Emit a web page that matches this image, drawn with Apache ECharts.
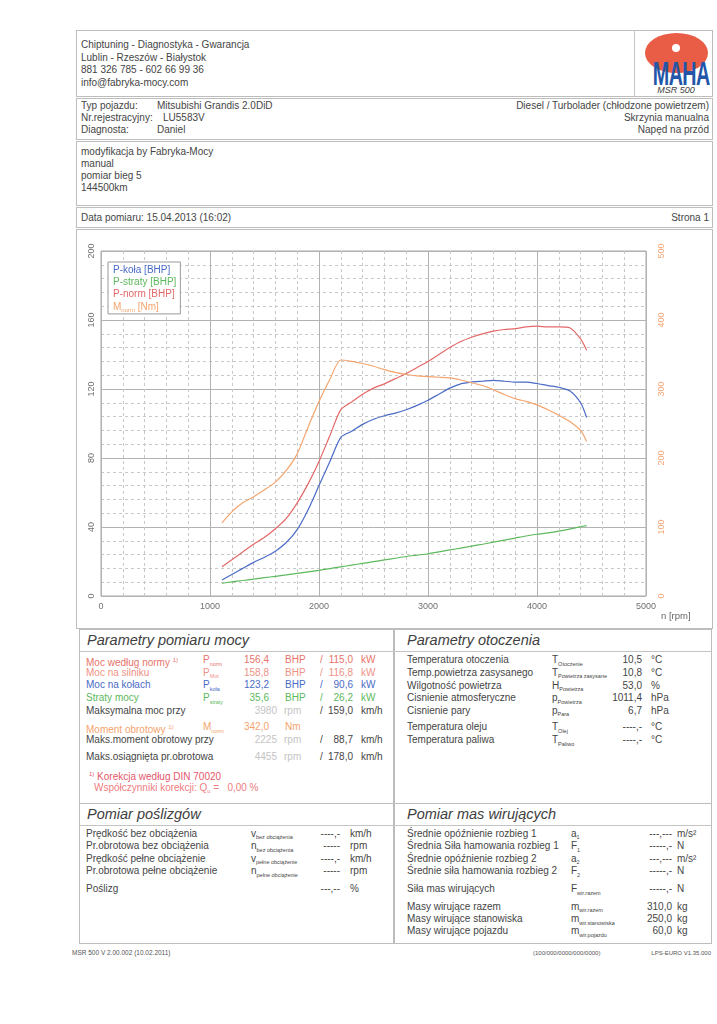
<!DOCTYPE html>
<html><head><meta charset="utf-8">
<script src="https://cdn.jsdelivr.net/npm/echarts@6/dist/echarts.min.js"></script>
<style>
html,body{margin:0;padding:0;background:#fff;}
body{width:717px;height:1024px;position:relative;overflow:hidden;font-family:"Liberation Sans",Arial,sans-serif;color:#454545;}
.b{position:absolute;border:1px solid #bdbdbd;box-sizing:border-box;}
.l{position:absolute;background:#c4c4c4;}
.t{position:absolute;white-space:nowrap;font-size:10px;line-height:12px;}
.s{font-size:5.5px;position:relative;top:2.5px;}
.h{font-size:14.5px;line-height:18px;font-style:italic;color:#404040;}
#chart{position:absolute;left:76px;top:230px;width:637px;height:398px;}
</style></head>
<body>
<!-- boxes -->
<div class="b" style="left:76px;top:30px;width:637px;height:67px"></div>
<div class="l" style="left:634px;top:30px;width:1px;height:67px"></div>
<div class="b" style="left:76px;top:98px;width:637px;height:42px"></div>
<div class="b" style="left:76px;top:141px;width:637px;height:65px"></div>
<div class="b" style="left:76px;top:207px;width:637px;height:21px"></div>
<div class="b" style="left:76px;top:229px;width:637px;height:400px"></div>
<div class="b" style="left:79px;top:629px;width:315px;height:175px"></div>
<div class="b" style="left:394px;top:629px;width:318px;height:175px"></div>
<div class="b" style="left:79px;top:803px;width:315px;height:141px"></div>
<div class="b" style="left:394px;top:803px;width:318px;height:141px"></div>
<div class="l" style="left:80px;top:651px;width:631px;height:1px"></div>
<div class="l" style="left:80px;top:825px;width:631px;height:1px"></div>

<!-- logo -->
<div style="position:absolute;left:645px;top:33px;width:63px;height:40px;border-radius:50%;background:#e95c45;"></div>
<div style="position:absolute;left:672px;top:44px;width:8px;height:8px;border-radius:50%;background:#fff;"></div>
<div class="t" style="left:636px;top:56px;width:80px;text-align:center;font-size:34px;line-height:34px;font-weight:bold;color:#2356a8;transform:scaleX(0.58);letter-spacing:-1px;">MAHA</div>
<div class="t" style="left:640px;top:85px;width:72px;text-align:center;font-size:9px;line-height:10px;font-style:italic;color:#404040;">MSR 500</div>

<div id="chart"></div>
<div id="txt"></div>

<script>
// ---- chart data ----
const rpm     = [1110,1200,1300,1400,1500,1600,1700,1800,1900,2000,2100,2200,2300,2400,2500,2600,2700,2800,2900,3000,3100,3200,3300,3400,3500,3600,3700,3800,3900,4000,4100,4200,4300,4400,4455];
const pKola   = [9.3,12.5,16,19.5,22.5,26,31,38.5,50,64,78,92,95.5,99.5,102.5,104.5,106,108,110.5,113.5,117,120.5,123,124,124.5,125,124.5,124,124,123.2,122,121,119,112,103.5];
const pStraty = [7.4,8.2,9,9.8,10.6,11.4,12.2,13.1,14,14.9,15.9,16.9,17.9,18.9,19.9,20.9,21.9,22.9,23.7,24.5,25.6,26.7,27.8,28.9,30,31.2,32.4,33.6,34.8,35.8,36.6,37.6,38.8,40.2,40.8];
const pNorm   = [17,21,25.5,30,34,39,45,54,65,78,93,108,112.5,117,120.5,123,126,129,132.5,136,140,144,147.5,150,152,153.5,154.5,155,156,156.4,156,156,155.5,149,142.5];
const mNorm   = [106,122,135,144,154,165,182,206,245,282,314,342,340,337,333,328,324,321,319,318,317,316,313,309,305,299,292,286,282,277,270,262,253,240,224];
const seriesNames = ['P-koła [BHP]','P-straty [BHP]','P-norm [BHP]','M_norm [Nm]'];
const xTicks = [0,1000,2000,3000,4000,5000];
const yLeftTicks = [0,40,80,120,160,200];
const yRightTicks = [0,100,200,300,400,500];

const C = {blue:'#4a6bc6', green:'#5db95d', red:'#e46868', orange:'#f4a46e'};

// ---- page text ----
const box = document.getElementById('txt');
function put(x, y, html, o) {
  o = o || {};
  const d = document.createElement('div');
  d.className = 't';
  const fs = o.fs || 10, lh = Math.round(fs * 1.2);
  d.style.fontSize = fs + 'px';
  d.style.lineHeight = lh + 'px';
  d.style.top = (y - lh / 2) + 'px';
  if (o.r) d.style.right = (717 - x) + 'px'; else d.style.left = x + 'px';
  if (o.c) d.style.color = o.c;
  if (o.cls) d.className += ' ' + o.cls;
  d.innerHTML = html;
  box.appendChild(d);
}
const sub = s => '<span class="s">' + s + '</span>';

// header
put(81, 45, 'Chiptuning - Diagnostyka - Gwarancja');
put(81, 57.5, 'Lublin - Rzeszów - Białystok');
put(81, 70, '881 326 785 - 602 66 99 36');
put(81, 82.5, 'info@fabryka-mocy.com');
put(81, 106, 'Typ pojazdu:'); put(157, 106, 'Mitsubishi Grandis 2.0DiD');
put(81, 118, 'Nr.rejestracyjny:'); put(163, 118, 'LU5583V');
put(81, 130, 'Diagnosta:'); put(157, 130, 'Daniel');
put(709, 106, 'Diesel / Turbolader (chłodzone powietrzem)', {r:1});
put(709, 118, 'Skrzynia manualna', {r:1});
put(709, 130, 'Napęd na przód', {r:1});
put(81, 151.5, 'modyfikacja by Fabryka-Mocy');
put(81, 163.5, 'manual');
put(81, 175.5, 'pomiar bieg 5');
put(81, 187.5, '144500km');
put(81, 217.5, 'Data pomiaru: 15.04.2013 (16:02)');
put(709, 217.5, 'Strona 1', {r:1});

// Parametry pomiaru mocy
put(87, 640.5, 'Parametry pomiaru mocy', {fs:14.5, cls:'h'});
const G = '#c4c4c4';
const powRows = [
  [660, 'Moc według normy <sup style="font-size:6px">1)</sup>', 'P' + sub('norm'), '156,4', 'BHP', '115,0', 'kW', '#e8736b'],
  [672.5, 'Moc na silniku', 'P' + sub('Mot'), '158,8', 'BHP', '116,8', 'kW', '#ef9286'],
  [685, 'Moc na kołach', 'P' + sub('koła'), '123,2', 'BHP', '90,6', 'kW', C.blue],
  [698, 'Straty mocy', 'P' + sub('straty'), '35,6', 'BHP', '26,2', 'kW', C.green]
];
powRows.forEach(r => {
  put(86, r[0], r[1], {c:r[7]}); put(203, r[0], r[2], {c:r[7]});
  put(269, r[0], r[3], {r:1, c:r[7]}); put(285, r[0], r[4], {c:r[7]});
  put(320, r[0], '/', {c:r[7]}); put(353, r[0], r[5], {r:1, c:r[7]}); put(361, r[0], r[6], {c:r[7]});
});
const rpmRows = [
  [710.5, 'Maksymalna moc przy', '3980', '159,0'],
  [740, 'Maks.moment obrotowy przy', '2225', '88,7'],
  [757, 'Maks.osiągnięta pr.obrotowa', '4455', '178,0']
];
rpmRows.forEach(r => {
  put(86, r[0], r[1]); put(277, r[0], r[2], {r:1, c:G}); put(284, r[0], 'rpm', {c:G});
  put(320, r[0], '/'); put(353, r[0], r[3], {r:1}); put(361, r[0], 'km/h');
});
put(86, 727, 'Moment obrotowy <sup style="font-size:6px">1)</sup>', {c:C.orange});
put(203, 727, 'M' + sub('norm'), {c:C.orange});
put(269, 727, '342,0', {r:1, c:C.orange}); put(285, 727, 'Nm', {c:C.orange});
put(89, 774, '<sup style="font-size:6px">1)</sup> Korekcja według DIN 70020', {c:'#e4566c'});
put(94, 787.5, 'Współczynniki korekcji: Q' + sub('u') + ' = &nbsp; 0,00 %', {c:'#ee7d80'});

// Parametry otoczenia
put(407, 640.5, 'Parametry otoczenia', {fs:14.5, cls:'h'});
const envRows = [
  [660, 'Temperatura otoczenia', 'T' + sub('Otoczenie'), '10,5', '°C'],
  [672.5, 'Temp.powietrza zasysanego', 'T' + sub('Powietrza zasysane'), '10,8', '°C'],
  [685.5, 'Wilgotność powietrza', 'H' + sub('Powietrza'), '53,0', '%'],
  [698, 'Cisnienie atmosferyczne', 'p' + sub('Powietrza'), '1011,4', 'hPa'],
  [710.5, 'Cisnienie pary', 'p' + sub('Para'), '6,7', 'hPa'],
  [727, 'Temperatura oleju', 'T' + sub('Olej'), '----,-', '°C'],
  [740, 'Temperatura paliwa', 'T' + sub('Paliwo'), '----,-', '°C']
];
envRows.forEach(r => {
  put(407, r[0], r[1]); put(552, r[0], r[2]); put(642, r[0], r[3], {r:1}); put(651, r[0], r[4]);
});

// Pomiar poślizgów
put(87, 814.5, 'Pomiar poślizgów', {fs:14.5, cls:'h'});
const slipRows = [
  [833.5, 'Prędkość bez obciążenia', 'v' + sub('bez obciążenia'), '----,-', 'km/h'],
  [846, 'Pr.obrotowa bez obciążenia', 'n' + sub('bez obciążenia'), '-----', 'rpm'],
  [858.5, 'Prędkość pełne obciążenie', 'v' + sub('pełne obciążenie'), '----,-', 'km/h'],
  [871, 'Pr.obrotowa pełne obciążenie', 'n' + sub('pełne obciążenie'), '-----', 'rpm'],
  [889, 'Poślizg', '', '---,--', '%']
];
slipRows.forEach(r => {
  put(86, r[0], r[1]); put(251, r[0], r[2]); put(340, r[0], r[3], {r:1}); put(350, r[0], r[4]);
});

// Pomiar mas wirujących
put(407, 814.5, 'Pomiar mas wirujących', {fs:14.5, cls:'h'});
const massRows = [
  [833.5, 'Średnie opóźnienie rozbieg 1', 'a' + sub('1'), '---,---', 'm/s²'],
  [846, 'Średnia Siła hamowania rozbieg 1', 'F' + sub('1'), '-----,-', 'N'],
  [858.5, 'Średnie opóźnienie rozbieg 2', 'a' + sub('2'), '---,---', 'm/s²'],
  [871, 'Średnie siła hamowania rozbieg 2', 'F' + sub('2'), '-----,-', 'N'],
  [889, 'Siła mas wirujących', 'F' + sub('wir.razem'), '-----,-', 'N'],
  [906.5, 'Masy wirujące razem', 'm' + sub('wir.razem'), '310,0', 'kg'],
  [919, 'Masy wirujące stanowiska', 'm' + sub('wir.stanowiska'), '250,0', 'kg'],
  [931, 'Masy wirujące pojazdu', 'm' + sub('wir.pojazdu'), '60,0', 'kg']
];
massRows.forEach(r => {
  put(407, r[0], r[1]); put(571, r[0], r[2]); put(672, r[0], r[3], {r:1}); put(677, r[0], r[4]);
});

// footer
put(72, 953, 'MSR 500 V 2.00.002 (10.02.2011)', {fs:6.5, c:'#555'});
put(533, 953, '(100/000/0000/000/0000)', {fs:6, c:'#555'});
put(711, 953, 'LPS-EURO V1.35.000', {fs:6, r:1, c:'#555'});

// ---- chart ----
const chart = echarts.init(document.getElementById('chart'), null, {renderer:'canvas'});
const pairs = vals => rpm.map((r, i) => [r, vals[i]]);
const lineS = (name, vals, color, yi) => ({
  name, type:'line', yAxisIndex:yi, data:pairs(vals), showSymbol:false, smooth:0.25,
  lineStyle:{color, width:1.2}, itemStyle:{color}
});
const minorSplit = {show:true, lineStyle:{color:'#c8c8c8', width:1, type:[3,3]}};
const plain = v => String(v);
chart.setOption({
  animation:false,
  grid:{left:25, right:67, top:21, bottom:32, show:true, borderColor:'#a9a9a9', borderWidth:1, backgroundColor:'#fff'},
  legend:{
    data: seriesNames.map((n, i) => ({name:n, textStyle:{color:[C.blue, C.green, C.red, C.orange][i]}})),
    orient:'vertical', left:32, top:32, icon:'none', itemWidth:0, itemHeight:10, itemGap:0.3,
    padding:[2, 4, 1, 0], backgroundColor:'#fff', borderColor:'#9a9a9a', borderWidth:1, selectedMode:false,
    textStyle:{fontSize:10, lineHeight:12, fontFamily:'Liberation Sans', rich:{
      a:{fontSize:10, color:C.orange, fontFamily:'Liberation Sans'},
      b:{fontSize:6, color:C.orange, verticalAlign:'bottom', padding:[4,0,0,0], fontFamily:'Liberation Sans'}
    }},
    formatter: n => n === 'M_norm [Nm]' ? '{a|M}{b|norm}{a| [Nm]}' : n
  },
  xAxis:{
    type:'value', min:xTicks[0], max:xTicks[xTicks.length - 1], interval:1000,
    axisLine:{show:false}, axisTick:{show:false},
    axisLabel:{color:'#707070', fontSize:9, margin:6, fontFamily:'Liberation Sans', formatter:plain},
    splitLine:{lineStyle:{color:'#b2b2b2', width:1}},
    minorTick:{show:false, splitNumber:5}, minorSplitLine:minorSplit
  },
  yAxis:[
    {type:'value', min:yLeftTicks[0], max:yLeftTicks[yLeftTicks.length - 1], interval:40,
     axisLine:{show:false}, axisTick:{show:false},
     axisLabel:{rotate:90, color:'#707070', fontSize:9, margin:5, fontFamily:'Liberation Sans', formatter:plain},
     splitLine:{lineStyle:{color:'#b2b2b2', width:1}},
     minorTick:{show:false, splitNumber:5}, minorSplitLine:minorSplit},
    {type:'value', position:'right', min:yRightTicks[0], max:yRightTicks[yRightTicks.length - 1], interval:100,
     axisLine:{show:false}, axisTick:{show:false}, splitLine:{show:false},
     axisLabel:{rotate:90, color:'#f5a474', fontSize:9, margin:11, fontFamily:'Liberation Sans', formatter:plain}}
  ],
  graphic:[{type:'text', left:585, top:381, style:{text:'n [rpm]', fontSize:9.5, fill:'#666', fontFamily:'Liberation Sans'}}],
  series:[
    lineS(seriesNames[0], pKola, C.blue, 0),
    lineS(seriesNames[1], pStraty, C.green, 0),
    lineS(seriesNames[2], pNorm, C.red, 0),
    lineS(seriesNames[3], mNorm, C.orange, 1)
  ]
});
</script>
</body></html>
